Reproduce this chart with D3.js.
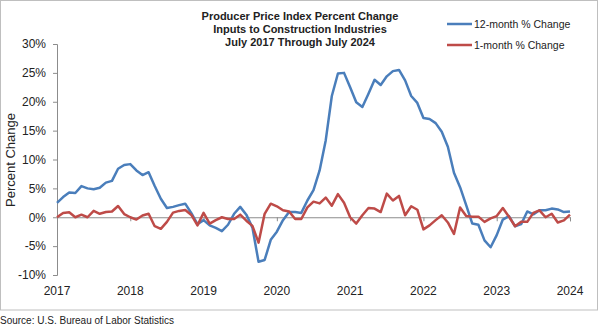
<!DOCTYPE html>
<html>
<head>
<meta charset="utf-8">
<script src="https://cdnjs.cloudflare.com/ajax/libs/d3/7.8.5/d3.min.js"></script>
<style>
  body { margin: 0; background: #fff; }
  text { font-family: "Liberation Sans", Arial, sans-serif; fill: #222; }
</style>
</head>
<body>
<div id="chart"></div>
<script>
// monthly data, July 2017 .. July 2024
var yearLabels = ["2017", "2018", "2019", "2020", "2021", "2022", "2023", "2024"];
var yTicks = [-10, -5, 0, 5, 10, 15, 20, 25, 30];

var twelveMonth = [
  2.5, 3.5, 4.3, 4.2, 5.4, 5.0, 4.85, 5.1, 6.0, 6.3, 8.4, 9.05,
  9.2, 8.1, 7.3, 7.8, 5.4, 3.2, 1.6, 1.8, 2.1, 2.35, 0.7, -1.2,
  -0.5, -1.4, -1.85, -2.4, -1.3, 0.6, 1.8, 0.45, -1.8, -7.7, -7.4, -3.9,
  -2.5, -0.5, 0.9, 0.9, 0.75, 2.9, 4.7, 8.1, 13.3, 21.0, 24.9, 25.0,
  22.5, 19.9, 19.1, 21.4, 23.8, 22.9, 24.4, 25.3, 25.5, 23.7, 21.0, 19.8,
  17.2, 17.0, 16.3, 14.8, 12.2, 7.7, 5.2, 2.1, -1.1, -1.3, -4.0, -5.2,
  -3.1, -0.4, 0.2, -1.55, -1.2, 1.0, 0.5, 1.2, 1.2, 1.5, 1.35, 0.9,
  1.0
];

var oneMonth = [
  0, 0.75, 0.85, 0, 0.45, 0, 1.1, 0.6, 0.9, 1.0, 1.95, 0.55,
  0, -0.4, 0.3, 0.6, -1.55, -2.0, -0.8, 0.8, 1.1, 1.25, 0.4, -1.4,
  0.75, -1.1, -0.5, 0, -0.3, -0.3, 0.45, -0.6, -1.5, -4.4, 0.6, 2.35,
  1.9, 1.2, 1.0, -0.3, -0.3, 1.7, 2.7, 2.4, 3.4, 2.0, 4.0, 2.5,
  0, -1.1, 0.35, 1.6, 1.5, 0.9, 4.1, 2.9, 3.7, 0.35, 1.9, 1.3,
  -2.1, -1.4, -0.5, 0.35, -0.9, -2.9, 1.7, 0.2, 0.1, 0.1, -0.8, -0.2,
  0.2, 1.6, 0.1, -1.55, -0.8, -0.8, 0.75, 1.2, 0, 0.6, -0.9, -0.55,
  0.45
];

var svgWidth = 600;
var svgHeight = 328;

var svg = d3.select("#chart").append("svg")
  .attr("width", svgWidth)
  .attr("height", svgHeight);

// outer frame
svg.append("rect")
  .attr("x", 0.5).attr("y", 0.5)
  .attr("width", 597).attr("height", 309.5)
  .attr("fill", "#fff")
  .attr("stroke", "#bfbfbf");

// scales
var xScale = d3.scaleLinear()
  .domain([0, twelveMonth.length - 1])
  .range([57, 570]);

var yScale = d3.scaleLinear()
  .domain([-10, 30])
  .range([275, 44]);

// y axis
var leftAxis = d3.axisLeft(yScale)
  .tickValues(yTicks)
  .tickSize(4)
  .tickPadding(7)
  .tickFormat(d => d + "%");

var yAxis = svg.append("g")
  .attr("transform", "translate(57, 0)")
  .call(leftAxis);
yAxis.select(".domain").attr("stroke", "#8c8c8c");
yAxis.selectAll(".tick line").attr("stroke", "#8c8c8c");
yAxis.selectAll("text")
  .style("font-size", "12px")
  .attr("fill", "#333");

// x axis sits on the 0% line, labels at the bottom
var bottomAxis = d3.axisBottom(xScale)
  .tickValues(yearLabels.map((d, i) => i * 12))
  .tickSize(4)
  .tickFormat("");

var xAxis = svg.append("g")
  .attr("transform", `translate(0, ${yScale(0)})`)
  .call(bottomAxis);
xAxis.select(".domain").attr("stroke", "#8c8c8c");
xAxis.selectAll(".tick line").attr("stroke", "#8c8c8c");

svg.append("g").selectAll("text")
  .data(yearLabels)
  .enter()
  .append("text")
  .attr("x", (d, i) => xScale(i * 12))
  .attr("y", 295)
  .attr("text-anchor", "middle")
  .style("font-size", "12px")
  .attr("fill", "#333")
  .text(d => d);

// lines
var line = d3.line()
  .x((d, i) => xScale(i))
  .y(d => yScale(d));

svg.append("path")
  .datum(twelveMonth)
  .attr("d", line)
  .attr("fill", "none")
  .attr("stroke", "#4a7ebb")
  .attr("stroke-width", 2.5)
  .attr("stroke-linejoin", "round");

svg.append("path")
  .datum(oneMonth)
  .attr("d", line)
  .attr("fill", "none")
  .attr("stroke", "#be4b48")
  .attr("stroke-width", 2.5)
  .attr("stroke-linejoin", "round");

// title
var titleLines = ["Producer Price Index Percent Change", "Inputs to Construction Industries", "July 2017 Through July 2024"];
svg.append("g").selectAll("text")
  .data(titleLines)
  .enter()
  .append("text")
  .attr("x", 300)
  .attr("y", (d, i) => 20 + i * 13)
  .attr("text-anchor", "middle")
  .style("font-size", "11px")
  .style("font-weight", "bold")
  .attr("fill", "#000")
  .text(d => d);

// y axis title
svg.append("text")
  .attr("transform", "translate(10, 160) rotate(-90)")
  .attr("text-anchor", "middle")
  .attr("dominant-baseline", "central")
  .style("font-size", "13px")
  .attr("fill", "#000")
  .text("Percent Change");

// legend
var legendItems = [
  { name: "12-month % Change", color: "#4a7ebb" },
  { name: "1-month % Change", color: "#be4b48" }
];
var legend = svg.append("g").selectAll("g")
  .data(legendItems)
  .enter()
  .append("g")
  .attr("transform", (d, i) => `translate(447, ${24 + i * 21})`);
legend.append("line")
  .attr("x1", 0).attr("x2", 25)
  .attr("stroke", d => d.color)
  .attr("stroke-width", 2.5);
legend.append("text")
  .attr("x", 27)
  .attr("dominant-baseline", "central")
  .style("font-size", "10.5px")
  .attr("fill", "#333")
  .text(d => d.name);

// source note
svg.append("text")
  .attr("x", 0)
  .attr("y", 324)
  .style("font-size", "10px")
  .attr("fill", "#000")
  .text("Source: U.S. Bureau of Labor Statistics");
</script>
</body>
</html>
